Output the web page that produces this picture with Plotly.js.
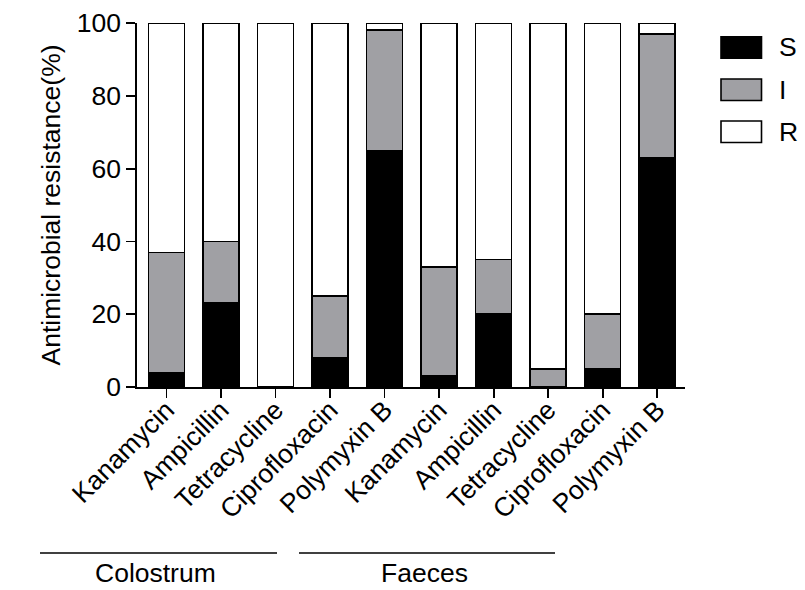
<!DOCTYPE html>
<html>
<head>
<meta charset="utf-8">
<script src="https://cdn.plot.ly/plotly-3.0.1.min.js"></script>
<style>html,body{margin:0;padding:0;background:#fff;}#chart{width:805px;height:590px;}</style>
</head>
<body>
<div id="chart"></div>
<script>
// ---- data ----
const categories = ['Kanamycin','Ampicillin','Tetracycline','Ciprofloxacin','Polymyxin B',
                    'Kanamycin','Ampicillin','Tetracycline','Ciprofloxacin','Polymyxin B'];
const seriesNames = ['S','I','R'];
const valuesS = [4, 23, 0, 8, 65, 3, 20, 0, 5, 63];
const valuesI = [33, 17, 0, 17, 33, 30, 15, 5, 15, 34];
const valuesR = [63, 60, 100, 75, 2, 67, 65, 95, 80, 3];
const groupNames = ['Colostrum','Faeces'];
const yTicks = [0, 20, 40, 60, 80, 100];
const yTitle = 'Antimicrobial resistance(%)';

// ---- styling ----
const FONT = 'Liberation Sans, Arial, Helvetica, sans-serif';
const FS = 26.5;
const colors = ['#000000', '#a0a0a4', '#ffffff'];
const xpos = categories.map((c, i) => i);
const seriesVals = [valuesS, valuesI, valuesR];

const traces = seriesVals.map((vals, k) => ({
  type: 'bar',
  x: xpos,
  y: vals,
  name: seriesNames[k],
  width: 0.66,
  marker: {color: colors[k], line: {color: '#000', width: 1.6}},
  showlegend: false,
  hoverinfo: 'skip'
}));

// custom legend (large swatches like the original)
const shapes = [];
const annotations = [];
const legTop = [0.9624, 0.846, 0.7308];
const legH = 0.059;
seriesNames.forEach((n, k) => {
  shapes.push({type: 'rect', xref: 'paper', yref: 'paper',
    x0: 1.0657, x1: 1.1396, y0: legTop[k] - legH, y1: legTop[k],
    fillcolor: colors[k], line: {color: '#000', width: 1.6}});
  annotations.push({xref: 'paper', yref: 'paper', x: 1.168, y: legTop[k] - legH / 2,
    xanchor: 'left', yanchor: 'middle', text: n, showarrow: false,
    font: {family: FONT, size: FS, color: '#000'}});
});

// group lines and labels
const groupSpans = [[-0.177, 0.2555], [0.2956, 0.7628]];
groupNames.forEach((g, k) => {
  const [a, b] = groupSpans[k];
  shapes.push({type: 'line', xref: 'paper', yref: 'paper', x0: a, x1: b, y0: -0.456, y1: -0.456,
    line: {color: '#000', width: 1.6}});
  annotations.push({xref: 'paper', yref: 'paper', x: (a + b) / 2 - 0.005, y: -0.556,
    xanchor: 'center', yanchor: 'bottom', text: g, showarrow: false, borderpad: 0,
    font: {family: FONT, size: FS, color: '#000'}});
});

const layout = {
  width: 805, height: 590,
  margin: {l: 137, r: 120, t: 23, b: 203, pad: 0},
  paper_bgcolor: '#fff', plot_bgcolor: '#fff',
  barmode: 'stack',
  font: {family: FONT, size: FS, color: '#000'},
  xaxis: {
    range: [-0.54, 9.51], tickvals: xpos, ticktext: categories,
    tickangle: -45, ticks: 'outside', ticklen: 9, tickwidth: 1.8, tickcolor: '#000',
    ticklabelstandoff: -14,
    showline: true, linecolor: '#000', linewidth: 1.8, showgrid: false, zeroline: false,
    tickfont: {family: FONT, size: FS, color: '#000'}, automargin: false, fixedrange: true
  },
  yaxis: {
    range: [0, 100], tickvals: yTicks, ticks: 'outside', ticklen: 9, tickwidth: 1.8, tickcolor: '#000',
    showline: true, linecolor: '#000', linewidth: 1.8, showgrid: false, zeroline: false,
    tickfont: {family: FONT, size: FS, color: '#000'}, automargin: false, fixedrange: true,
    title: {text: yTitle, font: {family: FONT, size: FS, color: '#000'}, standoff: 8}
  },
  shapes: shapes,
  annotations: annotations,
  showlegend: false
};

Plotly.newPlot('chart', traces, layout, {displayModeBar: false, staticPlot: true});
</script>
</body>
</html>
